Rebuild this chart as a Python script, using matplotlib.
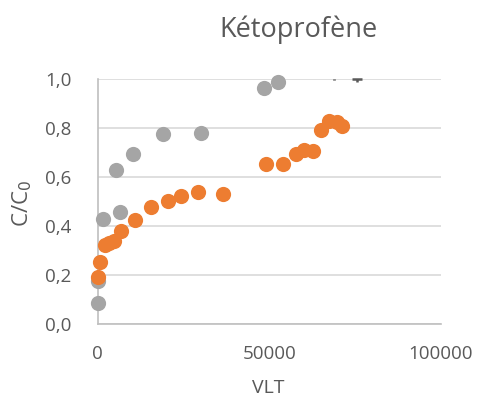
import matplotlib
matplotlib.use("Agg")
import matplotlib.pyplot as plt

title = "Kétoprofène"
x_label = "VLT"
y_label = "C/C$_0$"
x_ticks = [0, 50000, 100000]
x_tick_labels = ["0", "50000", "100000"]
y_ticks = [0.0, 0.2, 0.4, 0.6, 0.8, 1.0]
y_tick_labels = ["0,0", "0,2", "0,4", "0,6", "0,8", "1,0"]

gray_x = [0, 0, 1500, 6400, 5350, 10200, 18900, 30100, 48600, 52500]
gray_y = [0.087, 0.177, 0.427, 0.457, 0.629, 0.695, 0.776, 0.780, 0.964, 0.988]

orange_x = [0, 800, 2000, 3200, 4700, 6900, 10800, 15500, 20500, 24400, 29200,
            36500, 49000, 53900, 57800, 60200, 62700, 65000, 67500, 69900, 71300]
orange_y = [0.190, 0.252, 0.322, 0.332, 0.340, 0.378, 0.424, 0.476, 0.503, 0.522,
            0.537, 0.532, 0.652, 0.652, 0.693, 0.710, 0.707, 0.792, 0.829, 0.822, 0.808]

# clipped error-bar remnants at the top edge
err_x = [69000, 75500]

font = ["Open Sans", "DejaVu Sans"]
txt = "#595959"

fig = plt.figure(figsize=(4.8, 4.05), dpi=100)
L, R = 97.7 / 480, 440.7 / 480
B, T = (405 - 324) / 405, (405 - 78.7) / 405
ax = fig.add_axes([L, B, R - L, T - B])

ax.scatter(gray_x, gray_y, s=120, color="#A5A5A5", zorder=3, linewidths=0, clip_on=False)
ax.scatter(orange_x, orange_y, s=120, color="#ED7D31", zorder=4, linewidths=0, clip_on=False)

ax.errorbar([err_x[0]], [1.0], yerr=[[0.004], [0.0]], fmt="none", ecolor="#404040",
            elinewidth=2.0, capsize=0, zorder=5, clip_on=False)
ax.errorbar([err_x[1]], [1.0], yerr=[[0.014], [0.0]], xerr=[[1500], [1500]], fmt="none",
            ecolor="#595959", elinewidth=1.8, capsize=0, zorder=5, clip_on=False)

ax.set_xlim(0, 100000)
ax.set_ylim(0, 1.0)
ax.set_xticks(x_ticks)
ax.set_xticklabels(x_tick_labels)
ax.set_yticks(y_ticks)
ax.set_yticklabels(y_tick_labels)
ax.tick_params(length=0, labelsize=13.5, colors=txt)
ax.tick_params(axis="y", pad=19)
ax.tick_params(axis="x", pad=15)
for lab in ax.get_xticklabels() + ax.get_yticklabels():
    lab.set_fontfamily(font)

ax.grid(axis="y", color="#D9D9D9", linewidth=1.2, zorder=0)
ax.set_axisbelow(True)
for s in ["top", "right"]:
    ax.spines[s].set_visible(False)
for s in ["left", "bottom"]:
    ax.spines[s].set_color("#BFBFBF")
    ax.spines[s].set_linewidth(1.2)

fig.text(299 / 480, 1 - 30 / 405, title, ha="center", va="center", fontsize=19.5,
         color=txt, family=font)
fig.text(268 / 480, 1 - 388 / 405, x_label, ha="center", va="center", fontsize=14,
         color=txt, family=font)
fig.text(22 / 480, 1 - 203 / 405, y_label, ha="center", va="center", fontsize=16,
         color=txt, family=font, rotation=90)

fig.savefig("out.png", dpi=100)
